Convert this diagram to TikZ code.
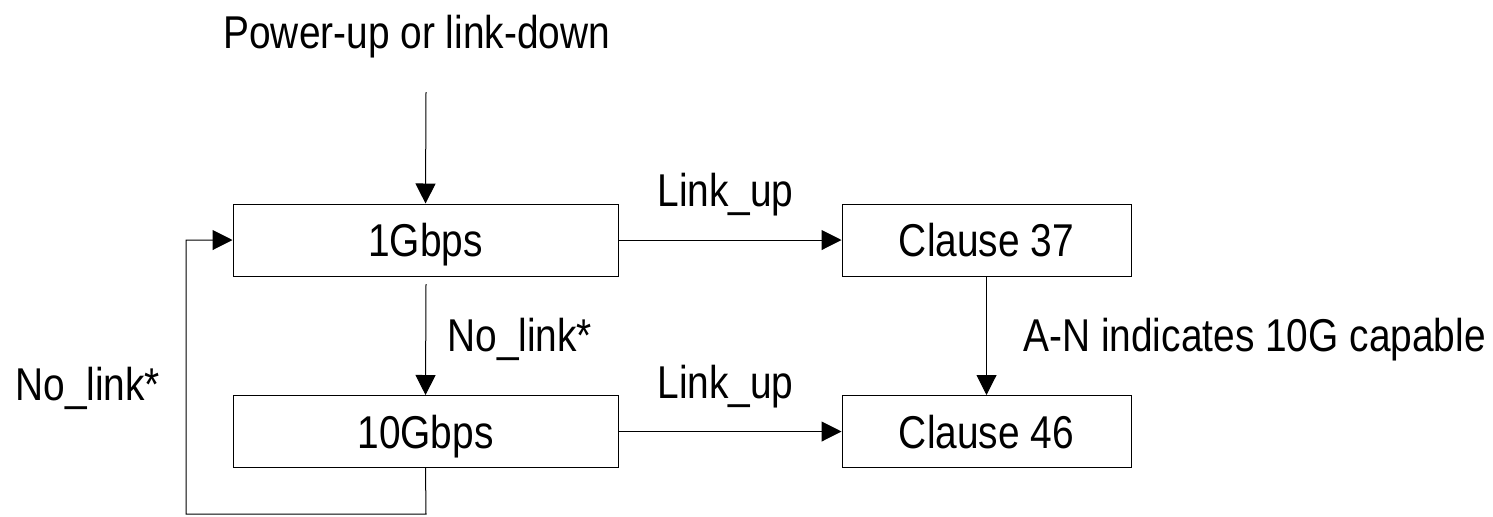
\documentclass[tikz,border=0pt]{standalone}
\usepackage{fontspec}
\setmainfont{Liberation Sans}[FakeStretch=0.845]
\usetikzlibrary{arrows.meta}
\begin{document}
\begin{tikzpicture}[x=0.5pt,y=-0.5pt,font=\fontsize{23}{27}\selectfont]
\useasboundingbox (0,0) rectangle (1493,516);
\node[draw, line width=0.5pt, minimum width=192.5pt, minimum height=36pt, text height=16.5pt, text depth=0pt] (g1) at (425.5,240) {1Gbps};
\node[draw, line width=0.5pt, minimum width=192.5pt, minimum height=36pt, text height=16.5pt, text depth=0pt] (g10) at (425.5,431.5) {10Gbps};
\node[draw, line width=0.5pt, minimum width=144.5pt, minimum height=36pt, text height=16.5pt, text depth=0pt] (c37) at (986.5,240) {Clause 37};
\node[draw, line width=0.5pt, minimum width=144.5pt, minimum height=36pt, text height=16.5pt, text depth=0pt] (c46) at (986.5,431.5) {Clause 46};

\node[anchor=base west, inner sep=0pt] (pwr) at (223,48.3) {Power-up or link-down};
\node[anchor=base west, inner sep=0pt] (up1) at (657,206.7) {Link\_up};
\node[anchor=base west, inner sep=0pt] (up2) at (657,398) {Link\_up};
\node[anchor=base west, inner sep=0pt] (nl1) at (447,351) {No\_link*};
\node[anchor=base west, inner sep=0pt] (nl2) at (15,400) {No\_link*};
\node[anchor=base west, inner sep=0pt] (an) at (1023,351.7) {A-N indicates 10G capable};

\coordinate (start) at (426,92);
\coordinate (g1b) at (426,284);
\coordinate (lpa) at (426,514);
\coordinate (lpb) at (186,514);
\coordinate (lpc) at (186,240);

\path[draw,line width=0.5pt,->,>={Triangle[length=10pt,width=10pt]}] (start) -- (g1.north);
\path[draw,line width=0.5pt,->,>={Triangle[length=10pt,width=10pt]}] (g1.east) -- (c37.west);
\path[draw,line width=0.5pt,->,>={Triangle[length=10pt,width=10pt]}] (g10.east) -- (c46.west);
\path[draw,line width=0.5pt,->,>={Triangle[length=10pt,width=10pt]}] (g1b) -- (g10.north);
\path[draw,line width=0.5pt,->,>={Triangle[length=10pt,width=10pt]}] (c37.south) -- (c46.north);
\path[draw,line width=0.5pt,->,>={Triangle[length=10pt,width=10pt]}] (g10.south) -- (lpa) -- (lpb) -- (lpc) -- (g1.west);

\end{tikzpicture}
\end{document}
